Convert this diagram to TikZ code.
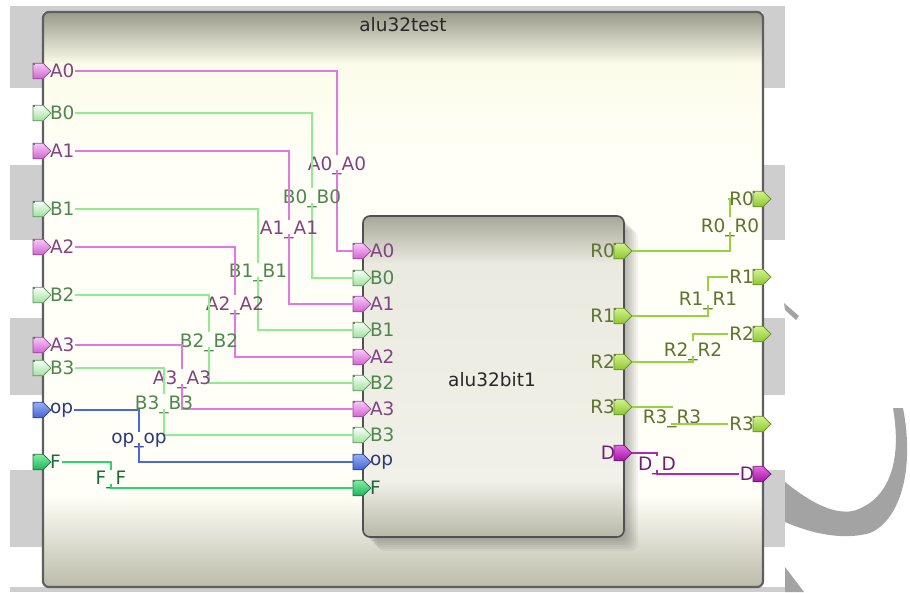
\documentclass[tikz,border=0pt]{standalone}
\usepackage{fontspec}
\setmainfont{DejaVu Sans}

% net colours: wire / label text / pin highlight / pin shade / pin edge
\definecolor{wA}{RGB}{226,118,226}\definecolor{tA}{RGB}{128,68,128}
\definecolor{hA}{RGB}{248,200,248}\definecolor{sA}{RGB}{210,100,210}\definecolor{eA}{RGB}{150,70,150}
\definecolor{wB}{RGB}{140,238,140}\definecolor{tB}{RGB}{78,135,78}
\definecolor{hB}{RGB}{248,255,248}\definecolor{sB}{RGB}{160,225,160}\definecolor{eB}{RGB}{90,150,90}
\definecolor{wO}{RGB}{70,105,225}\definecolor{tO}{RGB}{45,55,125}
\definecolor{hO}{RGB}{150,175,245}\definecolor{sO}{RGB}{70,100,210}\definecolor{eO}{RGB}{40,60,150}
\definecolor{wF}{RGB}{40,215,105}\definecolor{tF}{RGB}{30,105,60}
\definecolor{hF}{RGB}{130,238,165}\definecolor{sF}{RGB}{30,180,90}\definecolor{eF}{RGB}{20,120,60}
\definecolor{wR}{RGB}{150,212,60}\definecolor{tR}{RGB}{95,115,45}
\definecolor{hR}{RGB}{210,242,140}\definecolor{sR}{RGB}{140,200,50}\definecolor{eR}{RGB}{95,140,35}
\definecolor{wD}{RGB}{178,40,178}\definecolor{tD}{RGB}{115,30,115}
\definecolor{hD}{RGB}{228,105,228}\definecolor{sD}{RGB}{165,20,165}\definecolor{eD}{RGB}{110,20,110}
% frame colours
\definecolor{bgG}{RGB}{206,206,206}
\definecolor{curveG}{RGB}{163,163,163}
\definecolor{ob1}{RGB}{152,154,138}\definecolor{ob2}{RGB}{252,252,234}
\definecolor{obm}{RGB}{255,255,247}\definecolor{ob3}{RGB}{188,188,170}
\definecolor{ib1}{RGB}{168,168,152}\definecolor{ib2}{RGB}{234,234,224}
\definecolor{ib3}{RGB}{241,241,233}\definecolor{ib4}{RGB}{184,184,168}
\definecolor{frameEdge}{RGB}{95,95,95}
\definecolor{boxEdge}{RGB}{80,80,80}
\definecolor{title}{RGB}{40,40,40}

\tikzset{
  pinbox/.style={rectangle, inner sep=0pt, outer sep=0pt,
    minimum width=18pt, minimum height=15.5pt},
  pinA/.style={top color=hA, bottom color=sA, draw=eA},
  pinB/.style={top color=hB, bottom color=sB, draw=eB},
  pinO/.style={top color=hO, bottom color=sO, draw=eO},
  pinF/.style={top color=hF, bottom color=sF, draw=eF},
  pinR/.style={top color=hR, bottom color=sR, draw=eR},
  pinD/.style={top color=hD, bottom color=sD, draw=eD},
  plab/.style={inner sep=0.8pt},
  wire/.style={line width=1.7pt, line join=miter},
}
% pentagon port glyph filling a pinbox node
\newcommand\drawpin[2]{%
  \path[pin#2, line width=0.7pt] (#1.north west) -- ([xshift=-8pt]#1.north east)
    -- (#1.east) -- ([xshift=-8pt]#1.south east) -- (#1.south west) -- cycle;
  \fill[black!55] (#1.north west) rectangle ++(1.6pt,-1.6pt);}

\begin{document}
\begin{tikzpicture}[x=1pt, y=-1pt, font=\fontsize{18.5}{22}\selectfont]
\useasboundingbox (0,0) rectangle (910,592);
\fill[white] (0,0) rectangle (910,592);

% canvas strips behind the frame
\fill[bgG] (10,6) rectangle (785,12);
\fill[bgG] (10,587) rectangle (785,592);
\foreach \a/\b in {12/88,165/240,318/395,470/547}{
  \fill[bgG] (10,\a) rectangle (43,\b);
  \fill[bgG] (763,\a) rectangle (785,\b);
}
% grey strokes on the right
\fill[curveG] (784,303) -- (799,316) -- (796,320) -- (785,310) -- cycle;
\fill[curveG] (785,567) -- (804,592) -- (785,592) -- cycle;
\fill[curveG] (785,522) .. controls (815,535) and (845,540) .. (870,533)
  .. controls (900,520) and (915,470) .. (903,408) -- (893,408)
  .. controls (902,460) and (890,500) .. (853,511)
  .. controls (830,515) and (805,498) .. (785,482) -- cycle;

% top-level frame
\begin{scope}
  \clip[rounded corners=6] (43,12) rectangle (763,587);
  \fill[top color=ob1, bottom color=ob2] (43,12) rectangle (763,64);
  \fill[top color=ob2, bottom color=obm] (43,63) rectangle (763,160);
  \fill[obm] (43,159) rectangle (763,496);
  \fill[top color=obm, bottom color=ob3] (43,495) rectangle (763,587);
\end{scope}
\draw[line width=2.2pt, draw=frameEdge, rounded corners=6] (43,12) rectangle (763,587);
\node[text=title] (top-title) at (403,25) {alu32test};

% sub-module block with its drop shadow
\foreach \o in {2,4,...,14}{
  \fill[black, opacity=0.045, rounded corners=8] (363+\o,216+\o) rectangle (624+\o,537+\o);
}
\begin{scope}
  \clip[rounded corners=7] (363,216) rectangle (624,537);
  \fill[top color=ib1, bottom color=ib2] (363,216) rectangle (624,264);
  \fill[top color=ib2, bottom color=ib3] (363,263) rectangle (624,481);
  \fill[top color=ib3, bottom color=ib4] (363,480) rectangle (624,537);
\end{scope}
\draw[line width=1.6pt, draw=boxEdge, rounded corners=7] (363,216) rectangle (624,537);
\node[text=title] (blk) at (492,380) {alu32bit1};

% inputs: top-level port -> net label -> sub-module pin
\foreach \n/\yo/\yi/\xv/\yb/\k in {
  A0/71/251/337/170/A, B0/113/278/312/203/B, A1/151/304/289/234/A,
  B1/209/330/258/277/B, A2/247/357/235/310/A, B2/295/383/209/347/B,
  A3/345/409/182/384/A, B3/368/435/164/409/B, op/410/462/139/443/O,
  F/462/488/111/484/F}{
  \node[pinbox] (P-\n) at (42,\yo) {};
  \drawpin{P-\n}{\k}
  \node[plab, text=t\k, anchor=west, xshift=-2pt] (L-\n) at (P-\n.east) {\n};
  \node[pinbox] (Q-\n) at (362,\yi) {};
  \drawpin{Q-\n}{\k}
  \node[plab, text=t\k, anchor=west, xshift=-2pt] (M-\n) at (Q-\n.east) {\n};
  \node[plab, text=t\k, anchor=base] (N-\n) at (\xv,\yb) {\n\_\n};
  \draw[wire, draw=w\k] (L-\n.east) -| (N-\n.north) (N-\n.base) |- (Q-\n.west);
}

% outputs running upwards
\foreach \n/\yi/\yo/\xv/\yb/\k in {
  R0/251/199/730/232/R, R1/316/277/708/305/R, R2/362/334/693/356/R}{
  \node[pinbox] (Q-\n) at (623,\yi) {};
  \drawpin{Q-\n}{\k}
  \node[plab, text=t\k, anchor=east, xshift=2pt] (M-\n) at (Q-\n.west) {\n};
  \node[pinbox] (P-\n) at (762,\yo) {};
  \drawpin{P-\n}{\k}
  \node[plab, text=t\k, anchor=east, xshift=2pt] (L-\n) at (P-\n.west) {\n};
  \node[plab, text=t\k, anchor=base] (N-\n) at (\xv,\yb) {\n\_\n};
  \draw[wire, draw=w\k] (Q-\n.east) -| (N-\n.base) (N-\n.north) |- (L-\n.west);
}
% outputs running downwards
\foreach \n/\yi/\yo/\xv/\yb/\k in {
  R3/407/424/672/423/R, D/453/474/657/470/D}{
  \node[pinbox] (Q-\n) at (623,\yi) {};
  \drawpin{Q-\n}{\k}
  \node[plab, text=t\k, anchor=east, xshift=2pt] (M-\n) at (Q-\n.west) {\n};
  \node[pinbox] (P-\n) at (762,\yo) {};
  \drawpin{P-\n}{\k}
  \node[plab, text=t\k, anchor=east, xshift=2pt] (L-\n) at (P-\n.west) {\n};
  \node[plab, text=t\k, anchor=base] (N-\n) at (\xv,\yb) {\n\_\n};
  \draw[wire, draw=w\k] (Q-\n.east) -| (N-\n.north) (N-\n.base) |- (L-\n.west);
}
\end{tikzpicture}
\end{document}
